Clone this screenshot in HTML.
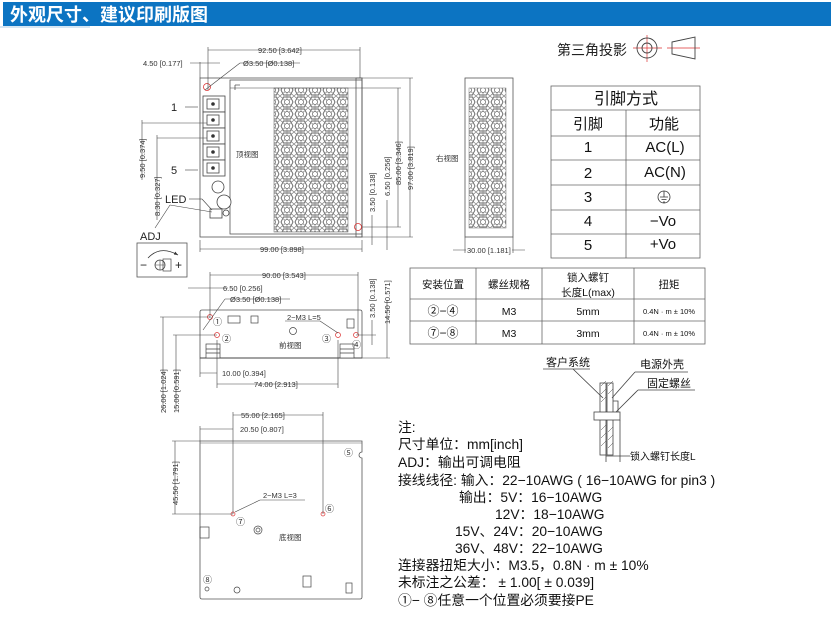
<!DOCTYPE html>
<html><head><meta charset="utf-8">
<style>
html,body{margin:0;padding:0;background:#fff;}
svg{display:block;}
text{font-family:"Liberation Sans","Noto Sans CJK SC",sans-serif;}
.d{font-size:7.5px;fill:#333;}
.n{fill:#111;}
</style></head><body>
<svg width="831" height="617" viewBox="0 0 831 617" xmlns="http://www.w3.org/2000/svg">
<defs>
<pattern id="mesh" width="14" height="12" patternUnits="userSpaceOnUse">
<rect width="14" height="12" fill="#fff"/>
<polygon points="3.5,1 10.5,1 13,6 10.5,11 3.5,11 1,6" fill="none" stroke="#666" stroke-width="0.9"/>
<path d="M0,0 L14,12 M14,0 L0,12 M7,0 V12" stroke="#888" stroke-width="0.7" fill="none"/>
<circle cx="7" cy="6" r="2.5" fill="#fff" stroke="#666" stroke-width="0.7"/>
</pattern>
<marker id="ar" markerWidth="6" markerHeight="6" refX="5" refY="3" orient="auto"><path d="M0,1 L5,3 L0,5z" fill="#333"/></marker>
</defs>

<!-- header -->
<rect x="3" y="2" width="828" height="24" fill="#0c74c2"/>
<rect x="0" y="26" width="90" height="2" fill="#d6e6f3"/>
<text x="10" y="21" font-size="18" font-weight="bold" fill="#fff">外观尺寸、建议印刷版图</text>

<!-- ===== TOP VIEW ===== -->
<g stroke="#555" fill="none" stroke-width="0.8">
<rect x="200" y="78" width="162" height="159"/>
<rect x="230" y="80" width="132" height="154"/>
<rect x="356" y="78" width="6" height="159"/>
<path d="M235,85 h5 M235,85 v5"/>
</g>
<rect x="274" y="88" width="74" height="144" fill="url(#mesh)" stroke="#777" stroke-width="0.6"/>
<g stroke="#444" fill="#fff" stroke-width="0.8">
<rect x="203" y="96" width="22" height="16"/><rect x="203" y="112" width="22" height="16"/><rect x="203" y="128" width="22" height="16"/><rect x="203" y="144" width="22" height="16"/><rect x="203" y="160" width="22" height="16"/>
<rect x="207" y="99" width="12" height="10"/><rect x="207" y="115" width="12" height="10"/><rect x="207" y="131" width="12" height="10"/><rect x="207" y="147" width="12" height="10"/><rect x="207" y="163" width="12" height="10"/>
<circle cx="218" cy="187" r="6"/><circle cx="224" cy="202" r="7"/>
<rect x="210" y="209" width="12" height="9"/><circle cx="226" cy="213" r="3"/>
</g>
<g fill="#333"><circle cx="213" cy="104" r="1.8"/><circle cx="213" cy="120" r="1.8"/><circle cx="213" cy="136" r="1.8"/><circle cx="213" cy="152" r="1.8"/><circle cx="213" cy="168" r="1.8"/></g>
<circle cx="207" cy="87" r="3.5" fill="none" stroke="#d33" stroke-width="0.8"/>
<circle cx="358" cy="227" r="3.5" fill="none" stroke="#d33" stroke-width="0.8"/>
<text x="236" y="157" class="d" font-size="8">顶视图</text>
<g stroke="#444" stroke-width="0.6" fill="none">
<line x1="208" y1="50" x2="360" y2="50"/><line x1="208" y1="47" x2="208" y2="90"/><line x1="360" y1="47" x2="360" y2="78"/>
<line x1="200" y1="62" x2="200" y2="78"/><line x1="190" y1="63" x2="220" y2="63"/>
<line x1="205" y1="90" x2="240" y2="63"/><line x1="240" y1="63" x2="300" y2="63"/>
<line x1="200" y1="249" x2="362" y2="249"/><line x1="200" y1="240" x2="200" y2="252"/><line x1="362" y1="240" x2="362" y2="252"/>
<line x1="410" y1="78" x2="410" y2="237"/><line x1="362" y1="78" x2="413" y2="78"/><line x1="362" y1="237" x2="413" y2="237"/>
<line x1="398" y1="88" x2="398" y2="227"/><line x1="230" y1="88" x2="401" y2="88"/><line x1="362" y1="227" x2="401" y2="227"/>
<line x1="372" y1="215" x2="372" y2="245"/><line x1="387" y1="200" x2="387" y2="250"/>
<line x1="142" y1="123" x2="207" y2="123"/><line x1="142" y1="120" x2="142" y2="180"/>
<line x1="157" y1="138" x2="207" y2="138"/><line x1="157" y1="135" x2="157" y2="220"/>
<line x1="185" y1="107" x2="198" y2="107"/><line x1="185" y1="170" x2="198" y2="170"/>
<line x1="189" y1="199" x2="202" y2="199"/><line x1="202" y1="199" x2="212" y2="210"/>
<line x1="155" y1="228" x2="170" y2="205"/><line x1="170" y1="205" x2="212" y2="212"/>
</g>
<text x="258" y="53" class="d">92.50 [3.642]</text>
<text x="143" y="66" class="d">4.50 [0.177]</text>
<text x="243" y="66" class="d">Ø3.50 [Ø0.138]</text>
<text x="260" y="252" class="d">99.00 [3.898]</text>
<text class="d" transform="translate(401,185) rotate(-90)">85.00 [3.346]</text>
<text class="d" transform="translate(413,190) rotate(-90)">97.00 [3.819]</text>
<text class="d" transform="translate(375,212) rotate(-90)">3.50 [0.138]</text>
<text class="d" transform="translate(390,196) rotate(-90)">6.50 [0.256]</text>
<text class="d" transform="translate(145,178) rotate(-90)">9.50 [0.374]</text>
<text class="d" transform="translate(160,216) rotate(-90)">8.30 [0.327]</text>
<text x="171" y="111" font-size="11" fill="#222">1</text>
<text x="171" y="174" font-size="11" fill="#222">5</text>
<rect x="163" y="192" width="24" height="12" fill="#fff"/>
<text x="165" y="203" font-size="11" fill="#222">LED</text>
<text x="140" y="240" font-size="11" fill="#222">ADJ</text>
<rect x="137" y="243" width="50" height="34" fill="#fff" stroke="#555" stroke-width="0.8"/>
<path d="M148,258 Q160,245 178,255" fill="none" stroke="#333" stroke-width="0.8" marker-end="url(#ar)"/>
<text x="140" y="269" font-size="12" fill="#222">−</text><text x="175" y="269" font-size="12" fill="#222">+</text>
<circle cx="160" cy="265" r="5" fill="#fff" stroke="#444" stroke-width="0.8"/><path d="M155,265 h10 M160,260 v10" stroke="#444" stroke-width="0.6"/>
<rect x="163" y="259" width="8" height="12" fill="none" stroke="#444" stroke-width="0.7"/>

<!-- ===== RIGHT VIEW ===== -->
<rect x="465" y="78" width="48" height="159" fill="#fff" stroke="#555" stroke-width="0.8"/>
<rect x="469" y="88" width="37" height="140" fill="url(#mesh)" stroke="#777" stroke-width="0.5"/>
<text x="436" y="161" class="d">右视图</text>
<g stroke="#444" stroke-width="0.6"><line x1="453" y1="250" x2="525" y2="250"/><line x1="465" y1="237" x2="465" y2="253"/><line x1="513" y1="237" x2="513" y2="253"/></g>
<rect x="466" y="245" width="46" height="9" fill="#fff"/>
<text x="467" y="253" class="d">30.00 [1.181]</text>

<!-- third angle -->
<text x="557" y="55" font-size="14" fill="#222">第三角投影</text>
<g stroke="#d33" stroke-width="0.7"><line x1="633" y1="48" x2="662" y2="48"/><line x1="647" y1="35" x2="647" y2="62"/><line x1="667" y1="48" x2="700" y2="48"/></g>
<circle cx="647" cy="48" r="10" fill="none" stroke="#444" stroke-width="0.9"/>
<circle cx="647" cy="48" r="5" fill="none" stroke="#444" stroke-width="0.9"/>
<path d="M672,42 L695,37 L695,59 L672,54 Z" fill="none" stroke="#444" stroke-width="0.9"/>

<!-- pin table -->
<g stroke="#666" stroke-width="0.8" fill="none">
<rect x="551" y="86" width="149" height="172"/>
<line x1="551" y1="110" x2="700" y2="110"/><line x1="551" y1="136" x2="700" y2="136"/><line x1="551" y1="160" x2="700" y2="160"/><line x1="551" y1="185" x2="700" y2="185"/><line x1="551" y1="210" x2="700" y2="210"/><line x1="551" y1="234" x2="700" y2="234"/>
<line x1="626" y1="110" x2="626" y2="258"/>
</g>
<g font-size="15" fill="#111" text-anchor="middle">
<text x="626" y="104" font-size="16">引脚方式</text>
<text x="588" y="129">引脚</text><text x="664" y="129">功能</text>
<text x="588" y="152">1</text><text x="665" y="152">AC(L)</text>
<text x="588" y="178">2</text><text x="665" y="177">AC(N)</text>
<text x="588" y="202">3</text>
<text x="588" y="226">4</text><text x="663" y="226">−Vo</text>
<text x="588" y="250">5</text><text x="663" y="249">+Vo</text>
</g>
<circle cx="664" cy="197" r="6" fill="none" stroke="#333" stroke-width="0.8"/>
<path d="M660,197 h8 M661.5,199.5 h5 M663,202 h2 M664,191 v6" stroke="#333" stroke-width="0.8"/>

<!-- install table -->
<g stroke="#666" stroke-width="0.8" fill="none">
<rect x="410" y="268" width="295" height="76"/>
<line x1="410" y1="299" x2="705" y2="299"/><line x1="410" y1="321" x2="705" y2="321"/>
<line x1="476" y1="268" x2="476" y2="344"/><line x1="542" y1="268" x2="542" y2="344"/><line x1="634" y1="268" x2="634" y2="344"/>
</g>
<g font-size="10.5" fill="#111" text-anchor="middle">
<text x="443" y="288">安装位置</text><text x="509" y="288">螺丝规格</text>
<text x="588" y="281">锁入螺钉</text><text x="588" y="296">长度L(max)</text><text x="669" y="288">扭矩</text>
<text x="443" y="315" font-size="12">②−④</text><text x="509" y="315">M3</text><text x="588" y="315">5mm</text>
<text x="443" y="337" font-size="12">⑦−⑧</text><text x="509" y="337">M3</text><text x="588" y="337">3mm</text>
<text x="669" y="314" font-size="7.5">0.4N · m ± 10%</text><text x="669" y="336" font-size="7.5">0.4N · m ± 10%</text>
</g>

<!-- ===== FRONT VIEW ===== -->
<path d="M200,358 V312 Q200,310 202,310 H360 Q362,310 362,312 V358 Z" fill="#fff" stroke="#555" stroke-width="0.8"/>
<line x1="200" y1="358" x2="362" y2="358" stroke="#444" stroke-width="1"/>
<g stroke="#444" stroke-width="0.7" fill="#fff">
<rect x="228" y="316" width="12" height="7"/><rect x="251" y="316" width="7" height="7"/><rect x="347" y="319" width="7" height="9"/>
<rect x="206" y="344" width="14" height="14"/><rect x="340" y="344" width="14" height="14"/>
<path d="M206,349 h14 M206,353 h14 M340,349 h14 M340,353 h14" fill="none"/>
<circle cx="293" cy="331" r="3.5"/>
</g>
<g stroke="#d33" stroke-width="0.7" fill="none">
<circle cx="210" cy="317" r="2.5"/><circle cx="217" cy="335" r="2.5"/><circle cx="338" cy="335" r="2.5"/><circle cx="356" cy="335" r="2.5"/>
</g>
<g font-size="9" fill="#333"><text x="213" y="325">①</text><text x="222" y="342">②</text><text x="322" y="342">③</text><text x="352" y="348">④</text></g>
<text x="279" y="348" class="d" font-size="8">前视图</text>
<text x="287" y="320" class="d">2−M3 L=5</text>
<g stroke="#444" stroke-width="0.6" fill="none">
<line x1="210" y1="275" x2="358" y2="275"/><line x1="210" y1="272" x2="210" y2="318"/><line x1="358" y1="272" x2="358" y2="335"/>
<line x1="188" y1="288" x2="228" y2="288"/>
<line x1="203" y1="330" x2="225" y2="299"/><line x1="225" y1="299" x2="290" y2="299"/>
<line x1="285" y1="321" x2="320" y2="321"/><line x1="320" y1="321" x2="338" y2="333"/>
<line x1="200" y1="373" x2="217" y2="373"/><line x1="200" y1="358" x2="200" y2="377"/><line x1="217" y1="340" x2="217" y2="388"/>
<line x1="217" y1="384" x2="338" y2="384"/><line x1="338" y1="340" x2="338" y2="388"/>
<line x1="163" y1="317" x2="163" y2="410"/><line x1="160" y1="317" x2="210" y2="317"/>
<line x1="176" y1="335" x2="176" y2="410"/><line x1="173" y1="335" x2="217" y2="335"/>
<line x1="372" y1="320" x2="372" y2="345"/><line x1="356" y1="335" x2="376" y2="335"/>
<line x1="387" y1="300" x2="387" y2="358"/><line x1="362" y1="358" x2="390" y2="358"/>
</g>
<text x="262" y="278" class="d">90.00 [3.543]</text>
<text x="223" y="291" class="d">6.50 [0.256]</text>
<text x="230" y="302" class="d">Ø3.50 [Ø0.138]</text>
<text x="222" y="376" class="d">10.00 [0.394]</text>
<text x="254" y="387" class="d">74.00 [2.913]</text>
<text class="d" transform="translate(166,413) rotate(-90)">26.00 [1.024]</text>
<text class="d" transform="translate(179,413) rotate(-90)">15.00 [0.591]</text>
<text class="d" transform="translate(375,318) rotate(-90)">3.50 [0.138]</text>
<text class="d" transform="translate(390,324) rotate(-90)">14.50 [0.571]</text>

<!-- ===== BOTTOM VIEW ===== -->
<path d="M200,441 H362 V452 A3,3 0 0 0 362,458 V597 Q362,599 360,599 H202 Q200,599 200,597 Z" fill="#fff" stroke="#555" stroke-width="0.8"/>
<line x1="200" y1="443" x2="362" y2="443" stroke="#666" stroke-width="0.6"/>
<g stroke="#444" stroke-width="0.7" fill="none">
<rect x="200" y="527" width="9" height="11"/><rect x="303" y="576" width="8" height="11"/><rect x="346" y="583" width="6" height="10"/>
<circle cx="258" cy="530" r="4"/><circle cx="258" cy="530" r="2"/><circle cx="237" cy="590" r="3"/><circle cx="207" cy="589" r="2"/>
</g>
<g stroke="#d33" stroke-width="0.7" fill="none"><circle cx="233" cy="514" r="2"/><circle cx="323" cy="514" r="2"/></g>
<g font-size="9" fill="#333"><text x="344" y="456">⑤</text><text x="236" y="525">⑦</text><text x="325" y="512">⑥</text><text x="203" y="583">⑧</text></g>
<text x="279" y="540" class="d" font-size="8">底视图</text>
<text x="263" y="498" class="d">2−M3 L=3</text>
<g stroke="#444" stroke-width="0.6" fill="none">
<line x1="233" y1="415" x2="323" y2="415"/><line x1="233" y1="412" x2="233" y2="514"/><line x1="323" y1="412" x2="323" y2="514"/>
<line x1="200" y1="429" x2="233" y2="429"/><line x1="200" y1="426" x2="200" y2="441"/>
<line x1="175" y1="441" x2="175" y2="514"/><line x1="172" y1="441" x2="200" y2="441"/><line x1="172" y1="514" x2="233" y2="514"/>
<line x1="235" y1="512" x2="260" y2="500"/><line x1="260" y1="500" x2="305" y2="500"/>
</g>
<text x="241" y="418" class="d">55.00 [2.165]</text>
<text x="240" y="432" class="d">20.50 [0.807]</text>
<text class="d" transform="translate(178,505) rotate(-90)">45.50 [1.791]</text>

<!-- screw diagram -->
<g stroke="#444" stroke-width="0.8" fill="none">
<rect x="600" y="383" width="6" height="72"/>
<rect x="607" y="383" width="6" height="72"/>
<path d="M613,401 h5 v18 h-5"/>
<rect x="594" y="412" width="26" height="8" fill="#fff"/>
<path d="M601,386 l5,-5 M601,394 l5,-5 M601,402 l5,-5 M601,430 l5,-5 M601,438 l5,-5 M601,446 l5,-5 M608,386 l5,-5 M608,394 l5,-5 M608,432 l5,-5 M608,440 l5,-5 M608,448 l5,-5" stroke-width="0.5"/>
<line x1="573" y1="369" x2="603" y2="398"/><line x1="543" y1="369" x2="590" y2="369"/>
<line x1="612" y1="398" x2="635" y2="372"/><line x1="635" y1="372" x2="688" y2="372"/>
<line x1="616" y1="412" x2="638" y2="390"/><line x1="638" y1="390" x2="695" y2="390"/>
<line x1="620" y1="420" x2="620" y2="462"/><line x1="606" y1="455" x2="606" y2="462"/><line x1="606" y1="456" x2="630" y2="456"/>
</g>
<g font-size="11" fill="#111"><text x="546" y="366">客户系统</text><text x="640" y="368">电源外壳</text><text x="647" y="387">固定螺丝</text><text x="630" y="460" font-size="10">锁入螺钉长度L</text></g>

<!-- notes -->
<g class="n" font-size="13.8">
<text x="398" y="432">注:</text>
<text x="398" y="449">尺寸单位：mm[inch]</text>
<text x="398" y="467">ADJ：输出可调电阻</text>
<text x="398" y="485">接线线径: 输入：22−10AWG ( 16−10AWG for pin3 )</text>
<text x="459" y="502">输出：5V：16−10AWG</text>
<text x="495" y="519">12V：18−10AWG</text>
<text x="455" y="536">15V、24V：20−10AWG</text>
<text x="455" y="553">36V、48V：22−10AWG</text>
<text x="398" y="570">连接器扭矩大小：M3.5，0.8N · m ± 10%</text>
<text x="398" y="587">未标注之公差： ± 1.00[ ± 0.039]</text>
<text x="398" y="605">①− ⑧任意一个位置必须要接PE</text>
</g>
</svg>
</body></html>
